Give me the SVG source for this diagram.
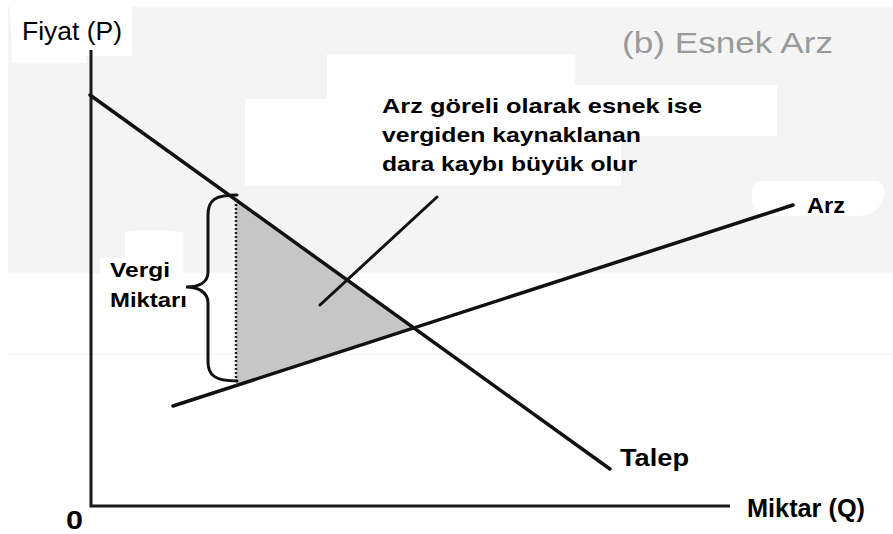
<svg xmlns="http://www.w3.org/2000/svg" width="893" height="534" viewBox="0 0 893 534">
<style>
.ln{stroke:#111;stroke-width:3.5;fill:none;stroke-linecap:round}
.ax{stroke:#1a1a1a;stroke-width:3;fill:none}
.t{font-family:"Liberation Sans",Arial,sans-serif;fill:#000}
.b{font-weight:bold}
</style>
<g id="background">
<rect x="0" y="0" width="893" height="534" fill="#ffffff"/>
<rect x="8" y="7" width="885" height="266" fill="#f4f4f4"/>
<path d="M10,5 H132 V56 H86 V63 H12 Z" fill="#ffffff"/>
<path d="M245,99 H327 V54 H575 V85 H777 V136 H621 V186 H245 Z" fill="#ffffff"/>
<path d="M752,190 Q752,181 764,181 H876 Q886,183 884,196 Q880,214 860,216 H766 Q752,214 752,200 Z" fill="#ffffff"/>
<path d="M125,232 Q150,228 183,232 V273 H100 V258 H125 Z" fill="#ffffff"/>
<line x1="8" y1="354" x2="893" y2="354" stroke="#eeeeee" stroke-width="1"/>
</g>
<g id="deadweight-loss">
<polygon points="236,200 413,328 236,385" fill="#c6c6c6"/>
</g>
<g id="connectors">
<line class="ln" x1="90" y1="95" x2="610" y2="469"/>
<line class="ln" x1="173" y1="406" x2="793" y2="205"/>
<line x1="236" y1="200" x2="236" y2="385" stroke="#222" stroke-width="2.5" stroke-dasharray="2,2"/>
<path class="ln" style="stroke-width:3" d="M237,195 C215,195 208,200 208,215 L208,272 C208,283 198,287 186,287 C198,287 208,292 208,303 L208,362 C208,375 215,381 237,381"/>
<line class="ln" style="stroke-width:3" x1="437" y1="197" x2="320" y2="305"/>
</g>
<g id="axes">
<polyline class="ax" points="91,50 91,506 730,506"/>
</g>
<g id="labels">
<text class="t" x="22" y="40" font-size="25" textLength="100" lengthAdjust="spacingAndGlyphs">Fiyat (P)</text>
<text class="t" x="622" y="53" font-size="29" style="fill:#9a9a9a" textLength="211" lengthAdjust="spacingAndGlyphs">(b) Esnek Arz</text>
<text class="t b" x="382" y="113" font-size="21" textLength="320" lengthAdjust="spacingAndGlyphs">Arz göreli olarak esnek ise</text>
<text class="t b" x="382" y="142" font-size="21" textLength="259" lengthAdjust="spacingAndGlyphs">vergiden kaynaklanan</text>
<text class="t b" x="382" y="171" font-size="21" textLength="255" lengthAdjust="spacingAndGlyphs">dara kaybı büyük olur</text>
<text class="t b" x="807" y="213" font-size="22" textLength="38" lengthAdjust="spacingAndGlyphs">Arz</text>
<text class="t b" x="110" y="277" font-size="21" textLength="60" lengthAdjust="spacingAndGlyphs">Vergi</text>
<text class="t b" x="110" y="307" font-size="21" textLength="77" lengthAdjust="spacingAndGlyphs">Miktarı</text>
<text class="t b" x="620" y="466" font-size="24" textLength="69" lengthAdjust="spacingAndGlyphs">Talep</text>
<text class="t b" x="747" y="517" font-size="25" textLength="118" lengthAdjust="spacingAndGlyphs">Miktar (Q)</text>
<text class="t b" x="66" y="529" font-size="26" textLength="17" lengthAdjust="spacingAndGlyphs">0</text>
</g>
</svg>
